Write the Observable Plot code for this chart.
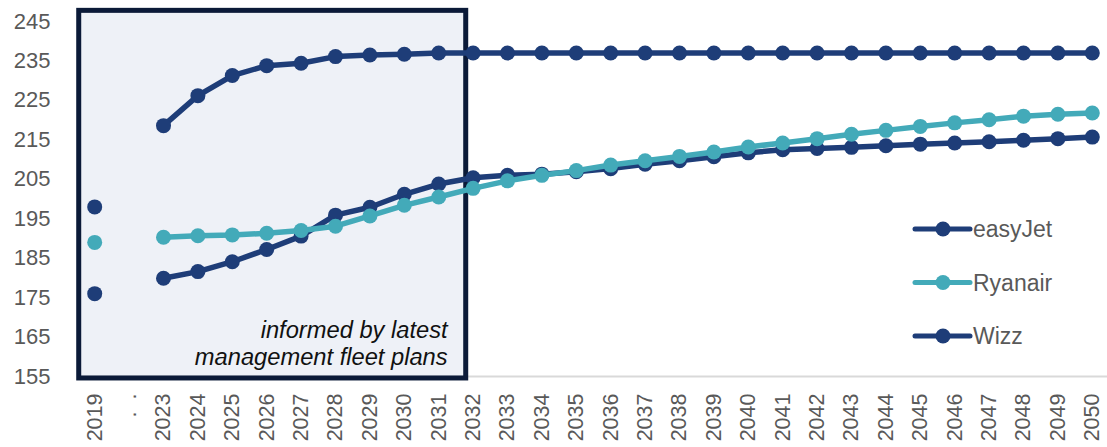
<!DOCTYPE html>
<html>
<head>
<meta charset="utf-8">
<script src="https://cdn.jsdelivr.net/npm/d3@7"></script>
<script src="https://cdn.jsdelivr.net/npm/@observablehq/plot@0.6"></script>
<style>
  body { margin: 0; background: #ffffff; }
  #chart { width: 1107px; height: 447px; }
</style>
</head>
<body>
<div id="chart"></div>
<script>
// Category axis: 2019, a gap marker, then 2023–2050
const yearLabels = [
  "2019", ".\u00a0\u00a0.",
  "2023", "2024", "2025", "2026", "2027", "2028", "2029", "2030", "2031", "2032",
  "2033", "2034", "2035", "2036", "2037", "2038", "2039", "2040", "2041", "2042",
  "2043", "2044", "2045", "2046", "2047", "2048", "2049", "2050"
];

// Average seats per flight (null = gap between 2019 and 2023)
const easyJet = [
  176, null,
  179.9, 181.6, 184.1, 187.2, 190.6, 195.9, 197.9, 201.2, 203.8, 205.4,
  206.0, 206.3, 206.9, 207.7, 208.8, 209.7, 210.7, 211.7, 212.5, 212.8,
  213.1, 213.5, 213.9, 214.2, 214.5, 214.9, 215.3, 215.7
];
const ryanair = [
  189, null,
  190.3, 190.7, 190.9, 191.3, 192.0, 193.1, 195.7, 198.4, 200.5, 202.7,
  204.6, 206.0, 207.2, 208.6, 209.7, 210.8, 211.9, 213.2, 214.2, 215.3,
  216.4, 217.4, 218.4, 219.3, 220.1, 221.0, 221.5, 221.8
];
const wizz = [
  198, null,
  218.6, 226.2, 231.3, 233.8, 234.4, 236.1, 236.5, 236.7, 237.0, 237.0,
  237.0, 237.0, 237.0, 237.0, 237.0, 237.0, 237.0, 237.0, 237.0, 237.0,
  237.0, 237.0, 237.0, 237.0, 237.0, 237.0, 237.0, 237.0
];

const seriesNames = ["easyJet", "Ryanair", "Wizz"];
const seriesValues = [easyJet, ryanair, wizz];
const seriesColors = ["#1e3d78", "#43aab9", "#1e3d78"];

const yTicks = [155, 165, 175, 185, 195, 205, 215, 225, 235, 245];

const annotationText = "informed by latest\nmanagement fleet plans";

const navy = "#0b1a38";
const axisGray = "#595959";

// One line + dots layer per airline, in legend order
const seriesMarks = seriesNames.flatMap((name, k) => {
  const rows = seriesValues[k].map((v, i) => ({ i, v }));
  return [
    Plot.line(rows, { x: "i", y: "v", stroke: seriesColors[k], strokeWidth: 5.5 }),
    Plot.dot(rows.filter(d => d.v != null), { x: "i", y: "v", r: 7.5, fill: seriesColors[k] })
  ];
});

const chart = Plot.plot({
  width: 1107,
  height: 447,
  marginLeft: 77,
  marginRight: 0,
  marginTop: 21,
  marginBottom: 71,
  style: { fontFamily: "'Liberation Sans', Arial, sans-serif", color: axisGray, background: "#ffffff" },
  x: { type: "linear", domain: [-0.5, 29.5], range: [77, 1109], label: null },
  y: { domain: [155, 245], label: null },
  marks: [
    Plot.ruleY([155], { stroke: "#d9d9d9", strokeWidth: 2 }),
    // shaded period based on management fleet plans
    Plot.rect([{}], {
      x1: -0.45, x2: 10.8, y1: 154.5, y2: 247.7,
      fill: "#eef1f7", stroke: navy, strokeWidth: 5, clip: false
    }),
    Plot.text([annotationText], {
      x: 10.26, y: 163.5, text: d => d, textAnchor: "end",
      fontStyle: "italic", fontSize: 23.7, fill: "#111111", lineHeight: 1.12
    }),
    ...seriesMarks,
    Plot.axisY({ ticks: yTicks, tickSize: 0, tickPadding: 27, fontSize: 22, tickFormat: d => String(d), label: null }),
    Plot.axisX({
      ticks: d3.range(yearLabels.length), tickFormat: i => yearLabels[i],
      tickRotate: -90, tickSize: 0, tickPadding: 17, fontSize: 21.5, label: null
    })
  ]
});

// Legend drawn inside the SVG on the right
const svg = d3.select(chart);
const legend = svg.append("g")
  .attr("font-family", "'Liberation Sans', Arial, sans-serif")
  .attr("text-anchor", "start");
seriesNames.forEach((name, k) => {
  const cy = 229 + k * 53.5;
  const g = legend.append("g").attr("transform", `translate(915,${cy})`);
  g.append("line").attr("x1", 0).attr("x2", 55).attr("y1", 0).attr("y2", 0)
    .attr("stroke", seriesColors[k]).attr("stroke-width", 5).attr("stroke-linecap", "round");
  g.append("circle").attr("cx", 28).attr("cy", 0).attr("r", 7.5).attr("fill", seriesColors[k]);
  g.append("text").attr("x", 58).attr("y", 0).attr("dy", "0.35em")
    .attr("text-anchor", "start")
    .attr("font-size", 23).attr("fill", axisGray).text(name);
});

document.getElementById("chart").appendChild(chart);
</script>
</body>
</html>
